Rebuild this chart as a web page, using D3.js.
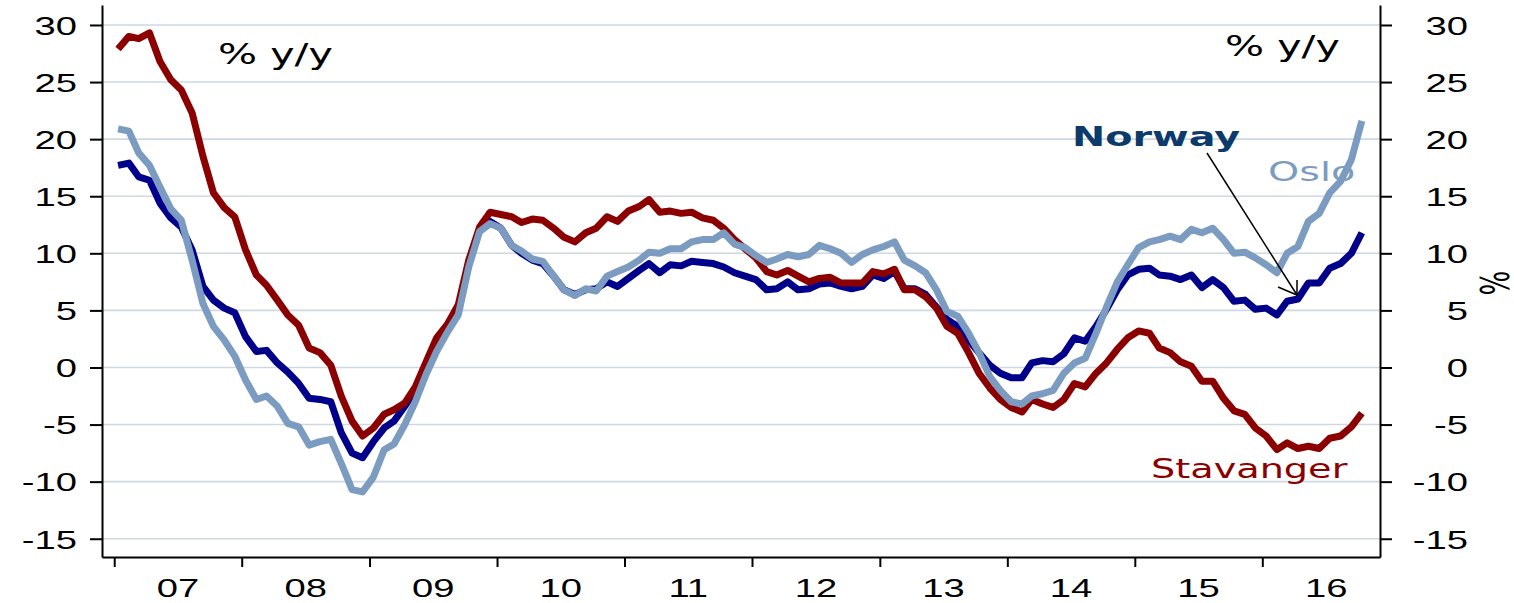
<!DOCTYPE html>
<html>
<head>
<meta charset="utf-8">
<script src="https://cdn.jsdelivr.net/npm/d3@7"></script>
<style>
  html, body { margin: 0; padding: 0; background: #fff; }
  svg { display: block; font-family: "DejaVu Sans", Verdana, sans-serif; }
</style>
</head>
<body>
<svg id="chart" width="1514" height="603"></svg>
<script>
// monthly, Jan 2007 .. Oct 2016, house prices % y/y
var norway = [
  17.7, 17.9, 16.7, 16.4, 14.4, 13.1, 12.3, 10.3, 7.1, 5.9,
  5.2, 4.8, 2.7, 1.4, 1.5, 0.4, -0.4, -1.4, -2.7, -2.8,
  -3.0, -5.7, -7.5, -7.9, -6.5, -5.3, -4.7, -3.4, -2.0, 0.1,
  1.8, 3.3, 4.9, 9.1, 12.1, 12.8, 12.2, 10.7, 10.0, 9.4,
  9.1, 8.0, 6.8, 6.4, 6.8, 6.9, 7.5, 7.1, 7.8, 8.5,
  9.1, 8.3, 9.0, 8.9, 9.3, 9.2, 9.1, 8.8, 8.3, 8.0,
  7.7, 6.8, 6.9, 7.5, 6.8, 6.9, 7.3, 7.4, 7.1, 6.9,
  7.1, 8.1, 7.8, 8.4, 6.9, 6.9, 6.4, 5.3, 4.2, 3.6,
  2.4, 1.3, 0.2, -0.5, -0.9, -0.9, 0.4, 0.6, 0.5, 1.2,
  2.6, 2.3, 3.6, 5.1, 6.8, 8.1, 8.6, 8.7, 8.1, 8.0,
  7.7, 8.1, 7.0, 7.7, 7.0, 5.8, 5.9, 5.1, 5.2, 4.6,
  5.8, 6.0, 7.4, 7.4, 8.7, 9.1, 10.0, 11.8
];
var oslo = [
  20.9, 20.7, 18.8, 17.7, 15.8, 13.9, 12.9, 9.4, 5.6, 3.6,
  2.4, 1.0, -1.1, -2.8, -2.5, -3.4, -4.9, -5.2, -6.8, -6.5,
  -6.3, -8.4, -10.7, -10.9, -9.6, -7.2, -6.7, -5.0, -3.0, -0.6,
  1.4, 3.1, 4.6, 8.8, 11.9, 12.6, 12.2, 10.7, 10.2, 9.5,
  9.3, 8.0, 6.8, 6.3, 6.9, 6.7, 8.0, 8.4, 8.8, 9.4,
  10.1, 10.0, 10.4, 10.4, 11.0, 11.2, 11.2, 11.8, 10.8, 10.5,
  9.8, 9.2, 9.5, 9.9, 9.7, 9.9, 10.7, 10.4, 10.0, 9.2,
  9.9, 10.3, 10.6, 11.0, 9.4, 8.9, 8.3, 6.8, 4.9, 4.5,
  3.0, 1.3, -0.8, -2.0, -3.0, -3.2, -2.5, -2.3, -2.0, -0.5,
  0.4, 0.8, 3.0, 5.3, 7.5, 9.0, 10.5, 11.0, 11.2, 11.5,
  11.2, 12.1, 11.8, 12.2, 11.2, 10.0, 10.1, 9.6, 9.0, 8.3,
  10.0, 10.6, 12.8, 13.5, 15.3, 16.3, 18.2, 21.6
];
var stavanger = [
  27.9, 29.0, 28.8, 29.3, 26.8, 25.2, 24.3, 22.3, 18.5, 15.3,
  14.0, 13.2, 10.3, 8.1, 7.2, 5.9, 4.6, 3.7, 1.7, 1.3,
  0.2, -2.5, -4.7, -6.0, -5.3, -4.1, -3.7, -3.1, -1.7, 0.5,
  2.6, 3.8, 5.5, 9.4, 12.3, 13.6, 13.4, 13.2, 12.7, 13.0,
  12.9, 12.2, 11.4, 11.0, 11.8, 12.2, 13.2, 12.8, 13.7, 14.1,
  14.7, 13.6, 13.7, 13.5, 13.6, 13.1, 12.9, 12.2, 11.2, 10.4,
  9.6, 8.4, 8.1, 8.5, 8.0, 7.5, 7.8, 7.9, 7.4, 7.4,
  7.4, 8.4, 8.2, 8.6, 6.8, 6.8, 6.2, 5.2, 3.6, 3.0,
  1.3, -0.5, -1.8, -2.8, -3.5, -3.9, -2.8, -3.2, -3.5, -2.8,
  -1.4, -1.7, -0.5, 0.4, 1.6, 2.6, 3.2, 3.0, 1.7, 1.3,
  0.5, 0.1, -1.2, -1.2, -2.7, -3.8, -4.1, -5.3, -6.0, -7.2,
  -6.6, -7.1, -6.9, -7.1, -6.2, -6.0, -5.2, -4.0
];
var yTicks = [-15, -10, -5, 0, 5, 10, 15, 20, 25, 30];
var years = [2007, 2008, 2009, 2010, 2011, 2012, 2013, 2014, 2015, 2016];

var months = d3.timeMonth.range(new Date(2007, 0, 1), new Date(2016, 10, 1));

var svg = d3.select("#chart");
var SX = 1.47;   // the source picture is stretched sideways, text too
var plotL = 102, plotR = 1380, plotT = 5, plotB = 557;

var x = d3.scaleTime()
  .domain([new Date(2006, 10, 27), new Date(2016, 11, 3)])
  .range([plotL, plotR]);
var y = d3.scaleLinear().domain([-16.6, 31.75]).range([plotB, plotT]);

// grid
svg.append("g").selectAll("line").data(yTicks).join("line")
  .attr("x1", plotL).attr("x2", plotR)
  .attr("y1", function(d){ return y(d); }).attr("y2", function(d){ return y(d); })
  .attr("stroke", "#cdd8e0").attr("stroke-width", 1.6);

// lines
var line = d3.line()
  .x(function(d, i){ return x(d3.timeDay.offset(months[i], 11)); })
  .y(function(d){ return y(d); });

var series = [
  {name: "Norway", values: norway, color: "#00008b"},
  {name: "Stavanger", values: stavanger, color: "#8b0000"},
  {name: "Oslo", values: oslo, color: "#7b9cc0"}
];
svg.append("g").selectAll("path").data(series).join("path")
  .attr("d", function(s){ return line(s.values); })
  .attr("fill", "none")
  .attr("stroke", function(s){ return s.color; })
  .attr("stroke-width", 7)
  .attr("stroke-linejoin", "round");

// axes
function styleAxis(g) {
  g.select(".domain").attr("stroke", "#000").attr("stroke-width", 2);
  g.selectAll(".tick line").attr("stroke", "#000").attr("stroke-width", 2);
  g.selectAll("text").attr("fill", "#000").style("font-size", "26px");
}

var gl = svg.append("g").attr("transform", "translate(" + plotL + ",0)")
  .call(d3.axisLeft(y).tickValues(yTicks).tickSize(12).tickSizeOuter(0)
    .tickFormat(function(d){ return String(d); }));
styleAxis(gl);
gl.selectAll("text").attr("x", 0).attr("text-anchor", "end")
  .attr("transform", "translate(-25,1) scale(" + SX + ",1)");

var gr = svg.append("g").attr("transform", "translate(" + plotR + ",0)")
  .call(d3.axisRight(y).tickValues(yTicks).tickSize(12).tickSizeOuter(0)
    .tickFormat(function(d){ return String(d); }));
styleAxis(gr);
gr.selectAll("text").attr("x", 0).attr("text-anchor", "end")
  .attr("transform", "translate(88,1) scale(" + SX + ",1)");

var gb = svg.append("g").attr("transform", "translate(0," + plotB + ")")
  .call(d3.axisBottom(x).tickValues(years.map(function(yr){ return new Date(yr, 0, 1); }))
    .tickSize(10).tickSizeOuter(0).tickFormat(""));
styleAxis(gb);

var gbl = svg.append("g").attr("transform", "translate(0," + plotB + ")")
  .call(d3.axisBottom(x).tickValues(years.map(function(yr){ return new Date(yr, 6, 1); }))
    .tickSize(0).tickFormat(d3.timeFormat("%y")));
gbl.select(".domain").remove();
styleAxis(gbl);
gbl.selectAll("text").attr("y", 0).attr("dy", 0)
  .attr("transform", "translate(0,40) scale(" + SX + ",1)");

// text labels
function label(txt, px, py, size, color, weight) {
  return svg.append("text")
    .attr("transform", "translate(" + px + "," + py + ") scale(" + SX + ",1)")
    .attr("fill", color)
    .style("font-size", size + "px")
    .style("font-weight", weight || "normal")
    .text(txt);
}
label("% y/y", 218, 64, 28, "#000");
label("% y/y", 1225, 56, 28, "#000");
label("Norway", 1072, 146, 27, "#0b3a6b", "bold");
label("Oslo", 1268, 181, 27, "#7b9cc0");
label("Stavanger", 1151, 478, 26, "#8b0000");

svg.append("text")
  .attr("transform", "translate(1493,283) scale(" + SX + ",1) rotate(90)")
  .attr("text-anchor", "middle").attr("dy", "0.35em")
  .style("font-size", "26px").attr("fill", "#000")
  .text("%");

// arrow to the Norway line
var ax = 1297, ay = 295;
svg.append("line").attr("x1", 1207).attr("y1", 153).attr("x2", ax).attr("y2", ay)
  .attr("stroke", "#000").attr("stroke-width", 1.5);
svg.append("path")
  .attr("d", "M" + ax + "," + (ay - 15) + " L" + ax + "," + ay + " L" + (ax - 19) + "," + (ay - 8))
  .attr("fill", "none").attr("stroke", "#000").attr("stroke-width", 1.5);
</script>
</body>
</html>
